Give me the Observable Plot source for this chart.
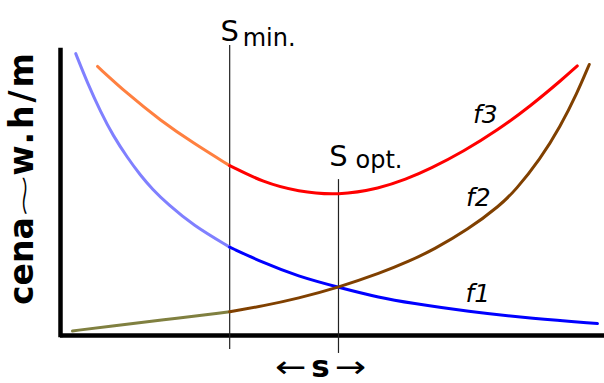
<!DOCTYPE html>
<html>
<head>
<meta charset="utf-8">
<script src="https://cdn.jsdelivr.net/npm/d3@7"></script>
<script src="https://cdn.jsdelivr.net/npm/@observablehq/plot@0.6"></script>
<style>
  html, body { margin: 0; padding: 0; background: #fff; }
  #chart svg { display: block; }
</style>
</head>
<body>
<div id="chart"></div>
<script>
// Cross-section s (0–100) where the minimum and the optimum sit
const sMin = 31.1;
const sOpt = 51.1;

// f1 – falling cost curve
const f1S = [2.8, 5.0, 7.4, 9.7, 12.3, 14.7, 16.9, 19.7, 24.4, 31.1, 37.3, 43.6, 51.1, 58.8, 64.3, 74.8, 86.9, 98.7];
const f1V = [98.9, 88.4, 78.4, 70.0, 62.4, 56.2, 51.3, 46.1, 38.6, 31.0, 25.5, 20.8, 16.9, 13.2, 11.4, 8.4, 5.9, 4.2];

// f2 – rising cost curve
const f2S = [2.2, 9.2, 18.4, 31.1, 37.3, 43.6, 51.1, 58.8, 64.3, 68.6, 74.8, 80.9, 83.6, 88.2, 91.9, 95.0, 97.2];
const f2V = [1.6, 3.3, 5.4, 8.3, 10.4, 13.0, 16.9, 21.9, 26.2, 30.2, 37.0, 45.8, 50.9, 61.9, 73.4, 85.2, 95.1];

// f3 – total cost curve
const f3S = [6.8, 12.3, 18.4, 24.5, 31.1, 37.3, 43.6, 51.1, 58.8, 63.4, 68.0, 74.1, 80.3, 86.4, 92.5, 95.0];
const f3V = [94.4, 84.8, 75.4, 67.4, 59.6, 53.7, 50.5, 49.1, 51.7, 54.7, 58.5, 64.6, 72.0, 80.5, 90.3, 94.6];

const rows = (S, V) => S.map((s, i) => ({s, v: V[i]}));
const r1 = rows(f1S, f1V), r2 = rows(f2S, f2V), r3 = rows(f3S, f3V);
const before = r => r.filter(d => d.s <= sMin);
const after = r => r.filter(d => d.s >= sMin);

const curve = (data, stroke) =>
  Plot.line(data, {x: "s", y: "v", stroke, strokeWidth: 3, curve: "basis"});

const label = (text, opts) => Plot.text([text], {text: d => d, ...opts});

const chart = Plot.plot({
  width: 604,
  height: 383,
  marginLeft: 60,
  marginRight: 0,
  marginTop: 50,
  marginBottom: 48,
  x: {domain: [0, 100], axis: null},
  y: {domain: [0, 100], axis: null},
  style: {fontFamily: "'DejaVu Sans', Verdana, sans-serif", background: "#fff", overflow: "visible", color: "#000"},
  marks: [
    // frame lines
    Plot.ruleX([0], {stroke: "#000", strokeWidth: 4.5, strokeLinecap: "square"}),
    Plot.ruleY([0], {stroke: "#000", strokeWidth: 4.5}),

    // S min and S opt markers
    Plot.ruleX([sMin], {y1: 101.75, y2: -4.9, stroke: "#222", strokeWidth: 1.2}),
    Plot.ruleX([sOpt], {y1: 54.7, y2: -6.3, stroke: "#222", strokeWidth: 1.2}),

    // curves: lighter tint left of S min
    curve(before(r1), "#8080ff"),
    curve(after(r1), "#0000ff"),
    curve(before(r2), "#808040"),
    curve(after(r2), "#804000"),
    curve(before(r3), "#ff8040"),
    curve(after(r3), "#ff0000"),

    // S min label
    label("S", {x: () => sMin, y: () => 103.5, fontSize: 29, lineAnchor: "bottom", textAnchor: "middle"}),
    label("min.", {x: () => sMin, y: () => 101.75, dx: 13, fontSize: 24, lineAnchor: "bottom", textAnchor: "start"}),

    // S opt label
    label("S", {x: () => sOpt, y: () => 59.6, fontSize: 29, lineAnchor: "bottom", textAnchor: "middle"}),
    label("opt.", {x: () => sOpt, y: () => 58.6, dx: 17, fontSize: 24, lineAnchor: "bottom", textAnchor: "start"}),

    // curve names
    Plot.text([
      {s: 78.1, v: 77.5, t: "f3"},
      {s: 76.8, v: 48.1, t: "f2"},
      {s: 76.7, v: 14.4, t: "f1"}
    ], {x: "s", y: "v", text: "t", fontSize: 25, fontStyle: "italic", lineAnchor: "middle", textAnchor: "middle"}),

    // y axis title: cena ~ w.h/m
    label("cena", {x: () => -5, y: () => 26.1, rotate: -90, fontSize: 33, fontWeight: "bold", lineAnchor: "bottom", textAnchor: "middle"}),
    label("~", {x: () => -6.6, y: () => 49.1, rotate: -90, fontSize: 36, fontWeight: 200, lineAnchor: "middle", textAnchor: "middle"}),
    label("w.h/m", {x: () => -5, y: () => 78.1, rotate: -90, fontSize: 33, fontWeight: "bold", lineAnchor: "bottom", textAnchor: "middle"}),

    // x axis title: ← s →
    label("s", {x: () => 47.8, y: () => -14.7, fontSize: 31, fontWeight: "bold", lineAnchor: "bottom", textAnchor: "middle"}),
    label("←", {x: () => 47.8, y: () => -14.7, dx: -14, fontSize: 30, lineAnchor: "bottom", textAnchor: "end"}),
    label("→", {x: () => 47.8, y: () => -14.7, dx: 14, fontSize: 30, lineAnchor: "bottom", textAnchor: "start"})
  ]
});

// typographic touches: tracking on the unit, stretched tilde and arrows
const svg = d3.select(chart);
const byText = t => svg.selectAll("text").filter(function() { return this.textContent === t; });
byText("w.h/m").style("letter-spacing", "3px");
const stretch = (t, k) => byText(t).attr("transform", function() {
  return (this.getAttribute("transform") || "") + ` scale(${k},1)`;
});
stretch("~", 1.6);
stretch("←", 1.25);
stretch("→", 1.25);

document.getElementById("chart").append(chart);
</script>
</body>
</html>
